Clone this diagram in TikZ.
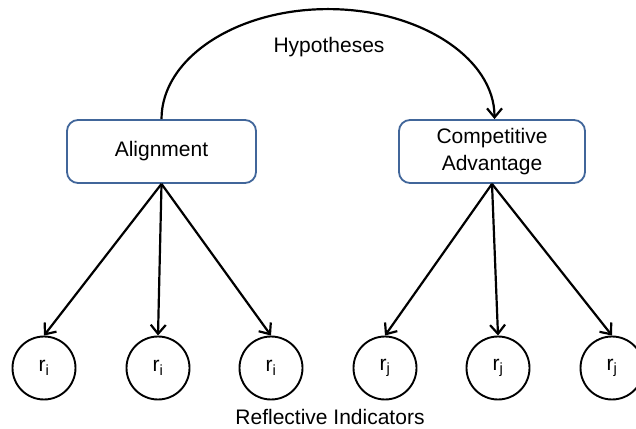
\documentclass[tikz,border=0pt]{standalone}
\usepackage{fontspec}
\setmainfont{Liberation Sans}
\usetikzlibrary{arrows.meta}
\definecolor{boxblue}{RGB}{65,102,154}
\tikzset{
  latent/.style={draw=boxblue, line width=1.8pt, rounded corners=11pt, minimum width=189pt, minimum height=63pt, align=center, inner sep=0pt, font=\fontsize{21}{27}\selectfont},
  indicator/.style={draw=black, circle, line width=1.9pt, minimum size=63pt, inner sep=0pt, font=\fontsize{21}{25}\selectfont},
  lbl/.style={font=\fontsize{21}{25}\selectfont, inner sep=0pt},
  conn/.style={draw=black, line width=2.2pt, -{Straight Barb[length=9pt,width=15pt,line width=2.2pt]}}
}
\begin{document}
\begin{tikzpicture}[x=1pt,y=1pt]
\useasboundingbox (0,0) rectangle (636,428);
\node[latent] (a) at (161.5,276.5) {Alignment};
\node[latent, minimum width=186pt] (b) at (492,276.5) {Competitive\\Advantage};
\node[lbl, anchor=base] (h) at (329,375) {Hypotheses};
\foreach \n/\x/\s in {c1/44/i, c2/158/i, c3/271/i, c4/385/j, c5/498/j, c6/612/j}{
  \node[indicator] (\n) at (\x,60) {r$_{\mathrm{\s}}$};
}
\node[lbl, anchor=base] (ri) at (330,3.5) {Reflective Indicators};
\draw[conn] (a.north) arc[start angle=180, end angle=0, x radius=166.5pt, y radius=110pt];
\foreach \c in {c1,c2,c3}{ \draw[conn] (a.south) -- (\c.north); }
\foreach \c in {c4,c5,c6}{ \draw[conn] (b.south) -- (\c.north); }
\end{tikzpicture}
\end{document}
